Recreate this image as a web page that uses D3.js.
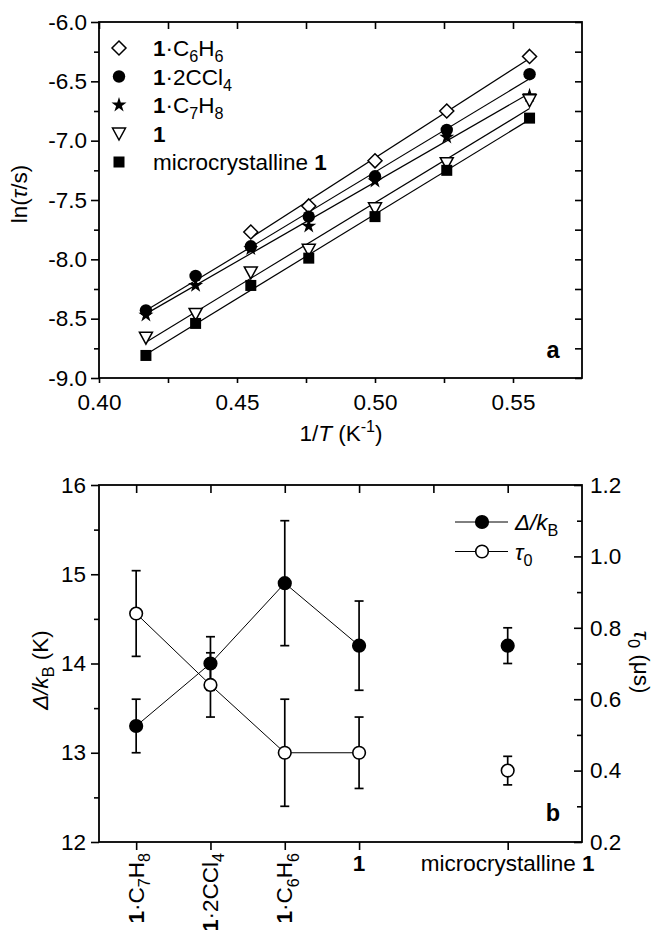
<!DOCTYPE html>
<html>
<head>
<meta charset="utf-8">
<script src="https://cdn.jsdelivr.net/npm/d3@7"></script>
<style>
  body { margin: 0; background: #fff; }
  svg text { font-family: "Liberation Sans", Arial, sans-serif; fill: #000; }
</style>
</head>
<body>
<div id="chart"></div>
<script>
// ---- panel a: ln(tau/s) against 1/T ----
const invT = [0.417, 0.435, 0.455, 0.476, 0.500, 0.526, 0.556]
const lnTauC6H6 = [null, null, -7.77, -7.55, -7.17, -6.75, -6.29]
const lnTau2CCl4 = [-8.43, -8.14, -7.89, -7.64, -7.30, -6.91, -6.44]
const lnTauC7H8 = [-8.47, -8.22, -7.91, -7.72, -7.34, -6.97, -6.62]
const lnTau1 = [-8.66, -8.46, -8.11, -7.92, -7.57, -7.19, -6.66]
const lnTauMicro = [-8.81, -8.54, -8.22, -7.99, -7.64, -7.25, -6.81]
const xTicksA = [0.40, 0.45, 0.50, 0.55]
const xMinorA = [0.425, 0.475, 0.525]
const yTicksA = [-9.0, -8.5, -8.0, -7.5, -7.0, -6.5, -6.0]
const yMinorA = [-8.75, -8.25, -7.75, -7.25, -6.75, -6.25]

// legend labels as [text, style] pieces
const legendA = [
  [['1', 'b'], ['·C'], ['6', 'sub'], ['H'], ['6', 'sub']],
  [['1', 'b'], ['·2CCl'], ['4', 'sub']],
  [['1', 'b'], ['·C'], ['7', 'sub'], ['H'], ['8', 'sub']],
  [['1', 'b']],
  [['microcrystalline '], ['1', 'b']]
]

// ---- panel b: fitted parameters per sample ----
const samples = [
  [['1', 'b'], ['·C'], ['7', 'sub'], ['H'], ['8', 'sub']],
  [['1', 'b'], ['·2CCl'], ['4', 'sub']],
  [['1', 'b'], ['·C'], ['6', 'sub'], ['H'], ['6', 'sub']],
  [['1', 'b']],
  [['microcrystalline '], ['1', 'b']]
]
const samplePos = [1, 2, 3, 4, 6]
const deltaK = [13.3, 14.0, 14.9, 14.2, 14.2]
const deltaErr = [0.3, 0.3, 0.7, 0.5, 0.2]
const tau0 = [0.84, 0.64, 0.45, 0.45, 0.40]
const tau0Err = [0.12, 0.09, 0.15, 0.10, 0.04]
const yTicksL = [12, 13, 14, 15, 16]
const yMinorL = [12.5, 13.5, 14.5, 15.5]
const yTicksR = [0.2, 0.4, 0.6, 0.8, 1.0, 1.2]
const yMinorR = [0.3, 0.5, 0.7, 0.9, 1.1]

const FS = 22.5

const svg = d3.select('#chart').append('svg')
  .attr('width', 657).attr('height', 930)

// Writes a text made of styled pieces (bold, italic, sub, sup).
function richText (g, parts, size) {
  const t = g.append('text').attr('font-size', size)
  let shift = 0
  parts.forEach(([s, style]) => {
    const sp = t.append('tspan').text(s)
    const target = style === 'sub' ? size * 0.28 : style === 'sup' ? -size * 0.4 : 0
    if (target !== shift) { sp.attr('dy', target - shift); shift = target }
    if (style === 'sub' || style === 'sup') sp.attr('font-size', size * 0.72)
    if (style === 'b') sp.attr('font-weight', 'bold')
    if (style === 'i') sp.attr('font-style', 'italic')
  })
  return t
}

function styleAxis (g) {
  g.select('.domain').remove()
  g.selectAll('line').attr('stroke', '#000').attr('stroke-width', 1.6)
  g.selectAll('text').attr('font-size', FS).attr('fill', '#000')
    .attr('font-family', '"Liberation Sans", Arial, sans-serif')
}

function addAxis (axis, tx, ty) {
  svg.append('g').attr('transform', `translate(${tx},${ty})`).call(axis).call(styleAxis)
}

// markers
const markers = {
  diamond: g => g.append('path').attr('d', 'M0,-7L7,0L0,7L-7,0Z').attr('fill', '#fff').attr('stroke', '#000').attr('stroke-width', 1.5),
  circle: g => g.append('circle').attr('r', 6.2).attr('fill', '#000'),
  star: g => g.append('path').attr('d', d3.symbol(d3.symbolStar, 70)()).attr('fill', '#000'),
  triangle: g => g.append('path').attr('d', 'M-6.5,-5.5L6.5,-5.5L0,6.5Z').attr('fill', '#fff').attr('stroke', '#000').attr('stroke-width', 1.5),
  square: g => g.append('rect').attr('x', -5.5).attr('y', -5.5).attr('width', 11).attr('height', 11).attr('fill', '#000')
}

// ================= panel a =================
function drawPanelA () {
  const m = { left: 99, right: 582, top: 22, bottom: 378 }
  const x = d3.scaleLinear().domain([0.40, 0.575]).range([m.left, m.right])
  const y = d3.scaleLinear().domain([-9.0, -6.0]).range([m.bottom, m.top])

  addAxis(d3.axisBottom(x).tickValues(xTicksA).tickSize(5).tickPadding(11).tickFormat(d => d.toFixed(2)), 0, m.bottom)
  addAxis(d3.axisBottom(x).tickValues(xMinorA).tickSize(5).tickFormat(''), 0, m.bottom)
  addAxis(d3.axisTop(x).tickValues(xTicksA.concat(xMinorA)).tickSize(-7).tickFormat(''), 0, m.top)
  addAxis(d3.axisLeft(y).tickValues(yTicksA).tickSize(8).tickPadding(4).tickFormat(d => d.toFixed(1)), m.left, 0)
  addAxis(d3.axisLeft(y).tickValues(yMinorA).tickSize(5).tickFormat(''), m.left, 0)
  addAxis(d3.axisRight(y).tickValues(yTicksA.concat(yMinorA)).tickSize(-7).tickFormat(''), m.right, 0)

  svg.append('rect').attr('x', m.left).attr('y', m.top)
    .attr('width', m.right - m.left).attr('height', m.bottom - m.top)
    .attr('fill', 'none').attr('stroke', '#000').attr('stroke-width', 1.8)

  const series = [
    { v: lnTauC6H6, mk: 'diamond' },
    { v: lnTau2CCl4, mk: 'circle' },
    { v: lnTauC7H8, mk: 'star' },
    { v: lnTau1, mk: 'triangle' },
    { v: lnTauMicro, mk: 'square' }
  ]

  // least squares fit lines
  series.forEach(s => {
    const pts = invT.map((t, i) => [t, s.v[i]]).filter(p => p[1] !== null)
    const mx = d3.mean(pts, p => p[0])
    const my = d3.mean(pts, p => p[1])
    const slope = d3.sum(pts, p => (p[0] - mx) * (p[1] - my)) / d3.sum(pts, p => (p[0] - mx) ** 2)
    const ends = d3.extent(pts, p => p[0]).map(t => [t, my + slope * (t - mx)])
    svg.append('path').attr('d', d3.line().x(p => x(p[0])).y(p => y(p[1]))(ends))
      .attr('fill', 'none').attr('stroke', '#000').attr('stroke-width', 1.2)
  })

  series.forEach(s => {
    invT.forEach((t, i) => {
      if (s.v[i] === null) return
      markers[s.mk](svg.append('g').attr('transform', `translate(${x(t)},${y(s.v[i])})`))
    })
  })

  // legend
  series.forEach((s, i) => {
    const yy = 48 + i * 28.5
    markers[s.mk](svg.append('g').attr('transform', `translate(119,${yy})`))
    richText(svg.append('g').attr('transform', `translate(153,${yy + 8})`), legendA[i], FS)
  })

  richText(svg.append('g').attr('transform', 'translate(341,441)'),
    [['1/'], ['T', 'i'], [' (K'], ['-1', 'sup'], [')']], FS).attr('text-anchor', 'middle')
  richText(svg.append('g').attr('transform', 'translate(27,194) rotate(-90)'),
    [['ln('], ['τ', 'i'], ['/s)']], FS).attr('text-anchor', 'middle')
  svg.append('text').attr('x', 553).attr('y', 358).attr('text-anchor', 'middle')
    .attr('font-size', FS + 1).attr('font-weight', 'bold').text('a')
}

// ================= panel b =================
function drawPanelB () {
  const m = { left: 99, right: 582, top: 485, bottom: 842 }
  const x = d3.scaleLinear().domain([0.5, 7]).range([m.left, m.right])
  const yL = d3.scaleLinear().domain([12, 16]).range([m.bottom, m.top])
  const yR = d3.scaleLinear().domain([0.2, 1.2]).range([m.bottom, m.top])

  addAxis(d3.axisBottom(x).tickValues(samplePos).tickSize(8).tickFormat(''), 0, m.bottom)
  addAxis(d3.axisTop(x).tickValues(d3.range(1, 7)).tickSize(-8).tickFormat(''), 0, m.top)
  addAxis(d3.axisLeft(yL).tickValues(yTicksL).tickSize(8).tickPadding(5).tickFormat(d3.format('d')), m.left, 0)
  addAxis(d3.axisLeft(yL).tickValues(yMinorL).tickSize(5).tickFormat(''), m.left, 0)
  addAxis(d3.axisRight(yR).tickValues(yTicksR).tickSize(-8).tickPadding(8).tickFormat(d => d.toFixed(1)), m.right, 0)
  addAxis(d3.axisRight(yR).tickValues(yMinorR).tickSize(-5).tickFormat(''), m.right, 0)

  svg.append('rect').attr('x', m.left).attr('y', m.top)
    .attr('width', m.right - m.left).attr('height', m.bottom - m.top)
    .attr('fill', 'none').attr('stroke', '#000').attr('stroke-width', 1.8)

  // category labels
  samples.forEach((parts, i) => {
    const px = x(samplePos[i])
    if (i < 3) {
      richText(svg.append('g').attr('transform', `translate(${px + 7.5},853) rotate(-90)`), parts, FS)
        .attr('text-anchor', 'end')
    } else {
      richText(svg.append('g').attr('transform', `translate(${px},871)`), parts, FS)
        .attr('text-anchor', 'middle')
    }
  })

  const sets = [
    { v: deltaK, e: deltaErr, y: yL, filled: true },
    { v: tau0, e: tau0Err, y: yR, filled: false }
  ]

  // connecting lines, first four samples only
  sets.forEach(s => {
    const pts = samplePos.slice(0, 4).map((p, i) => [x(p), s.y(s.v[i])])
    svg.append('path').attr('d', d3.line()(pts))
      .attr('fill', 'none').attr('stroke', '#000').attr('stroke-width', 1)
  })

  // error bars
  sets.forEach(s => {
    samplePos.forEach((p, i) => {
      const g = svg.append('g').attr('stroke', '#000').attr('stroke-width', 1.7)
      const top = s.y(s.v[i] + s.e[i])
      const bot = s.y(s.v[i] - s.e[i])
      g.append('line').attr('x1', x(p)).attr('x2', x(p)).attr('y1', top).attr('y2', bot)
      g.append('line').attr('x1', x(p) - 4.5).attr('x2', x(p) + 4.5).attr('y1', top).attr('y2', top)
      g.append('line').attr('x1', x(p) - 4.5).attr('x2', x(p) + 4.5).attr('y1', bot).attr('y2', bot)
    })
  })

  sets.forEach(s => {
    samplePos.forEach((p, i) => {
      svg.append('circle').attr('cx', x(p)).attr('cy', s.y(s.v[i])).attr('r', 6.3)
        .attr('fill', s.filled ? '#000' : '#fff').attr('stroke', '#000').attr('stroke-width', 1.6)
    })
  })

  // legend
  const legendB = [
    [['Δ/k', 'i'], ['B', 'sub']],
    [['τ', 'i'], ['0', 'sub']]
  ]
  sets.forEach((s, i) => {
    const yy = 522 + i * 29.5
    svg.append('line').attr('x1', 455).attr('x2', 508).attr('y1', yy).attr('y2', yy)
      .attr('stroke', '#000').attr('stroke-width', 1)
    svg.append('circle').attr('cx', 482).attr('cy', yy).attr('r', 6.3)
      .attr('fill', s.filled ? '#000' : '#fff').attr('stroke', '#000').attr('stroke-width', 1.6)
    richText(svg.append('g').attr('transform', `translate(515,${yy + 8})`), legendB[i], FS)
  })

  richText(svg.append('g').attr('transform', 'translate(48,670) rotate(-90)'),
    [['Δ/k', 'i'], ['B', 'sub'], [' (K)']], FS).attr('text-anchor', 'middle')
  richText(svg.append('g').attr('transform', 'translate(634,662) rotate(90)'),
    [['τ', 'i'], ['0', 'sub'], [' (μs)']], FS).attr('text-anchor', 'middle')
  svg.append('text').attr('x', 553).attr('y', 821).attr('text-anchor', 'middle')
    .attr('font-size', FS + 1).attr('font-weight', 'bold').text('b')
}

drawPanelA()
drawPanelB()
</script>
</body>
</html>
